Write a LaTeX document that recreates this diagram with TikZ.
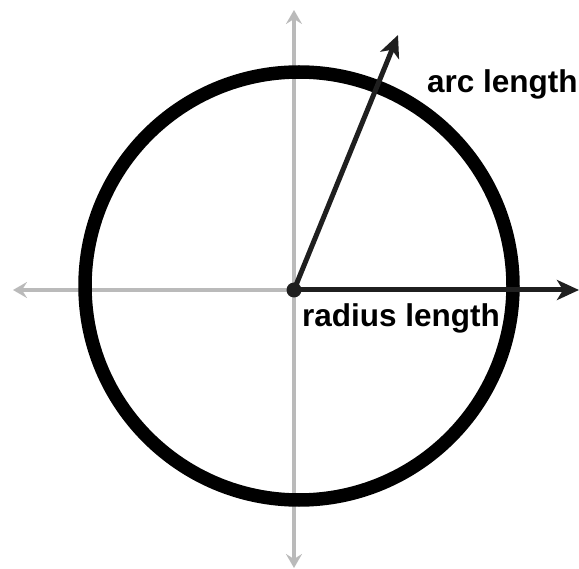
\documentclass[tikz,border=0pt]{standalone}
\usepackage{fontspec}
\setmainfont{Liberation Sans}
\usetikzlibrary{arrows.meta}
\begin{document}
\begin{tikzpicture}[x=1pt,y=-1pt,
  axis/.style={draw=black!27,line width=3.5pt,-{Stealth[length=14pt,width=16pt,inset=5pt]}},
  vec/.style={draw=black!88,line width=5pt,-{Stealth[length=22pt,width=20pt,inset=6pt]}},
  lab/.style={anchor=base west,inner sep=0pt,font=\fontsize{31.5}{37}\selectfont\bfseries}]
\useasboundingbox (0,0) rectangle (579,569);
\coordinate (O) at (294,290);
\coordinate (L) at (13,290);
\coordinate (T) at (294,10);
\coordinate (B) at (294,568);
\coordinate (R) at (579,290);
\coordinate (A) at (398,35);
\draw[axis] (O) -- (L);
\draw[axis] (O) -- (T);
\draw[axis] (O) -- (B);
\draw[line width=13.5pt] (299,286) circle[radius=214];
\draw[vec] (O) -- (R);
\draw[vec] (O) -- (A);
\node[circle,fill=black!88,minimum size=15pt,inner sep=0pt] (dot) at (O) {};
\node[lab] (arc) at (427,93) {arc length};
\node[lab] (rad) at (302,327) {radius length};
\end{tikzpicture}
\end{document}
